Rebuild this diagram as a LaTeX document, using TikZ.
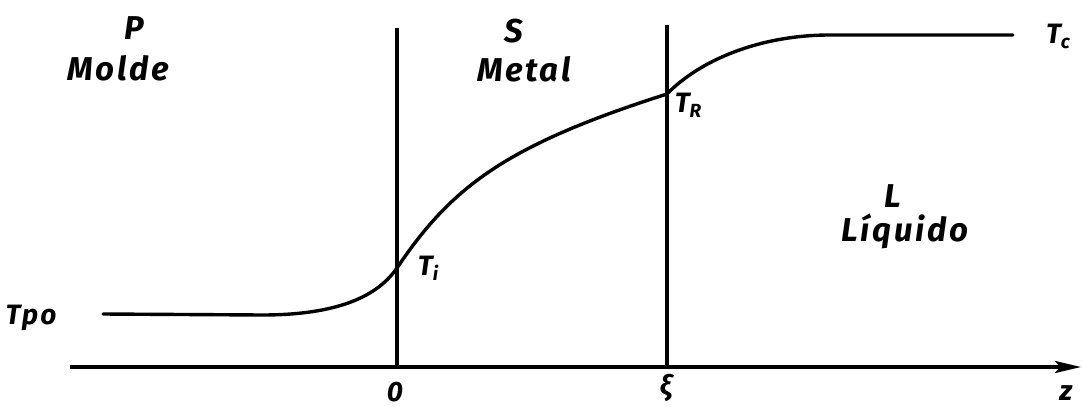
\documentclass[tikz,border=0pt]{standalone}
\usepackage{fontspec}
\setmainfont{Fira Sans}[LetterSpace=8]
\usetikzlibrary{arrows.meta}
\begin{document}
\begin{tikzpicture}[x=1pt,y=-1pt,
  lbl/.style={inner sep=0pt,anchor=base,font=\fontsize{33}{34}\selectfont\bfseries\itshape},
  tlbl/.style={inner sep=0pt,anchor=base,font=\fontsize{28}{30}\selectfont\bfseries\itshape},
  ax/.style={line width=3.2pt},
  crv/.style={line width=3.4pt,line cap=round,line join=round}]
\useasboundingbox (0,0) rectangle (1082,407);
% axes and interfaces
\coordinate (axL) at (70,367);
\coordinate (axR) at (1081,367);
\coordinate (v0b) at (397,367);
\coordinate (v0t) at (397,28);
\coordinate (v1b) at (667,367);
\coordinate (v1t) at (667,25);
\draw[ax,-{Stealth[length=26pt,width=12pt,inset=5pt]}] (axL) -- (axR);
\draw[ax] (v0b) -- (v0t);
\draw[ax] (v1b) -- (v1t);
% temperature curve
\coordinate (c0) at (103,314);
\coordinate (c1) at (262,315);
\coordinate (ti) at (397,268);
\coordinate (tr) at (667,94);
\coordinate (c2) at (830,35);
\coordinate (c3) at (1013,35);
\draw[crv] (c0) -- (c1)
  .. controls (330,315) and (375,300) .. (ti)
  .. controls (452,186) and (507,145) .. (tr)
  .. controls (700,60) and (760,35) .. (c2)
  -- (c3);
% region labels
\node[lbl] (P) at (134,39) {P};
\node[lbl] (molde) at (118,80) {Molde};
\node[lbl] (S) at (514,42) {S};
\node[lbl] (metal) at (524,81) {Metal};
\node[lbl] (L) at (893,207) {L};
\node[lbl] (liq) at (905,241) {Líquido};
% temperature labels
\node[tlbl] (tpo) at (31,324) {Tpo};
\node[tlbl] (Ti) at (428,275) {T\raisebox{-0.35ex}{\fontsize{19}{20}\selectfont i}};
\node[tlbl] (TR) at (688,112) {T\raisebox{-0.35ex}{\fontsize{19}{20}\selectfont R}};
\node[tlbl] (Tc) at (1058,43) {T\raisebox{-0.35ex}{\fontsize{19}{20}\selectfont c}};
% axis labels
\node[tlbl] (zero) at (395,401) {0};
\node[tlbl] (xi) at (666,395) {ξ};
\node[tlbl] (z) at (1066,400) {z};
\end{tikzpicture}
\end{document}
